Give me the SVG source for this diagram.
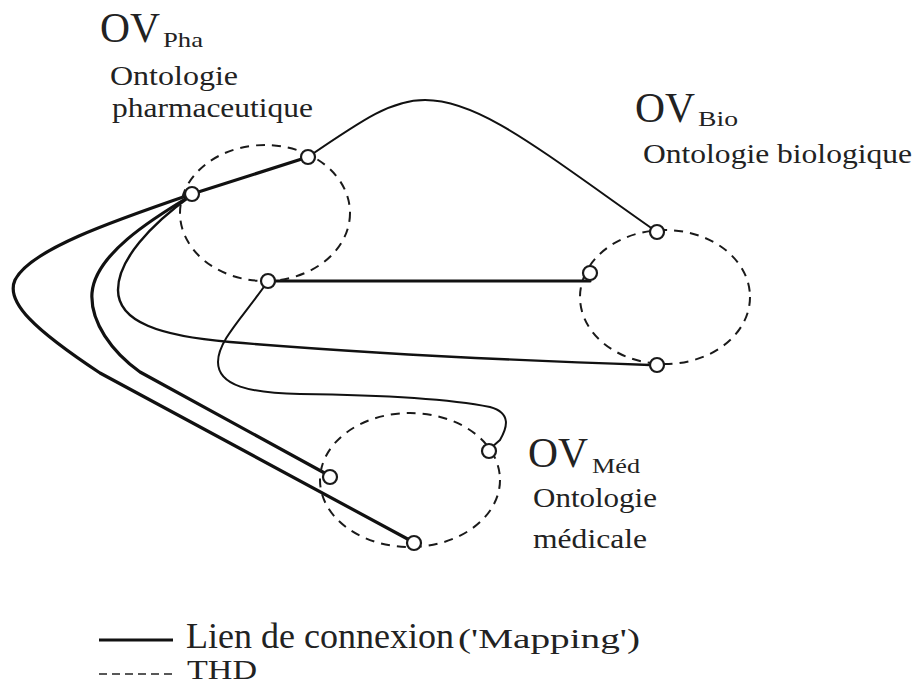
<svg xmlns="http://www.w3.org/2000/svg" width="919" height="686" viewBox="0 0 919 686">
<style>
  .bg { fill: #ffffff; }
  .thd { fill: none; stroke: #1a1a1a; stroke-width: 2; stroke-dasharray: 9 7; }
  .pt { fill: #ffffff; stroke: #1a1a1a; stroke-width: 2.2; }
  .lk { fill: none; stroke: #111111; stroke-linecap: round; stroke-linejoin: round; }
  .thick { stroke-width: 3.2; }
  .mid { stroke-width: 2.4; }
  .thin { stroke-width: 2; }
  text { font-family: "Liberation Serif", "Times New Roman", serif; fill: #222222; }
  .big { font-size: 42px; }
  .sub { font-size: 22px; }
  .lab { font-size: 27px; }
  .leg { font-size: 36px; }
  .legs { font-size: 28px; }
</style>
<rect class="bg" x="0" y="0" width="919" height="686"/>

<g id="connectors">
  <path class="lk thin" d="M308,157 C365,118 392,100 425,100 C480,100 540,150 657,232"/>
  <path class="lk thick" d="M308,157 L192,194 C110,222 30,250 15,280 C5,302 35,330 100,373 L415,543"/>
  <path class="lk thick" d="M192,195 C150,220 95,255 92,293 C90,322 112,352 140,372 L330,476"/>
  <path class="lk mid" d="M192,195 C150,225 118,260 118,290 C118,322 160,336 230,342 C350,352 500,360 650,365"/>
  <path class="lk thick" d="M268,281 L590,281"/>
  <path class="lk thin" d="M268,281 C245,315 218,340 218,362 C218,386 250,393 300,394 C380,395 450,399 490,407 C512,413 507,428 500,440 L492,447"/>
</g>

<g id="pha">
  <ellipse class="thd" cx="265" cy="213" rx="85" ry="68"/>
  <circle class="pt" cx="308" cy="157" r="7"/>
  <circle class="pt" cx="192" cy="194" r="7"/>
  <circle class="pt" cx="268" cy="281" r="7"/>
  <text class="big" x="100" y="42" textLength="60" lengthAdjust="spacingAndGlyphs">OV</text>
  <text class="sub" x="163" y="47" textLength="40" lengthAdjust="spacingAndGlyphs">Pha</text>
  <text class="lab" x="110" y="85" textLength="128" lengthAdjust="spacingAndGlyphs">Ontologie</text>
  <text class="lab" x="112" y="117" textLength="201" lengthAdjust="spacingAndGlyphs">pharmaceutique</text>
</g>

<g id="bio">
  <ellipse class="thd" cx="665" cy="297" rx="85" ry="67"/>
  <circle class="pt" cx="657" cy="232" r="7"/>
  <circle class="pt" cx="590" cy="273" r="7"/>
  <circle class="pt" cx="657" cy="365" r="7"/>
  <text class="big" x="635" y="122" textLength="60" lengthAdjust="spacingAndGlyphs">OV</text>
  <text class="sub" x="698" y="126" textLength="40" lengthAdjust="spacingAndGlyphs">Bio</text>
  <text class="lab" x="643" y="163" textLength="269" lengthAdjust="spacingAndGlyphs">Ontologie biologique</text>
</g>

<g id="med">
  <ellipse class="thd" cx="410" cy="480" rx="90" ry="67"/>
  <circle class="pt" cx="489" cy="451" r="7"/>
  <circle class="pt" cx="330" cy="477" r="7"/>
  <circle class="pt" cx="414" cy="543" r="7"/>
  <text class="big" x="528" y="467" textLength="60" lengthAdjust="spacingAndGlyphs">OV</text>
  <text class="sub" x="592" y="473" textLength="48" lengthAdjust="spacingAndGlyphs">Méd</text>
  <text class="lab" x="533" y="507" textLength="124" lengthAdjust="spacingAndGlyphs">Ontologie</text>
  <text class="lab" x="533" y="548" textLength="114" lengthAdjust="spacingAndGlyphs">médicale</text>
</g>

<g id="legend">
  <line x1="99" y1="640" x2="173" y2="640" stroke="#111111" stroke-width="3.2"/>
  <line x1="99" y1="674" x2="173" y2="674" stroke="#222222" stroke-width="1.6" stroke-dasharray="8 5"/>
  <text class="leg" x="186" y="648" textLength="268" lengthAdjust="spacingAndGlyphs">Lien de connexion</text>
  <text class="legs" x="458" y="648" textLength="182" lengthAdjust="spacingAndGlyphs">('Mapping')</text>
  <text class="legs" x="187" y="679" textLength="70" lengthAdjust="spacingAndGlyphs">THD</text>
</g>
</svg>
